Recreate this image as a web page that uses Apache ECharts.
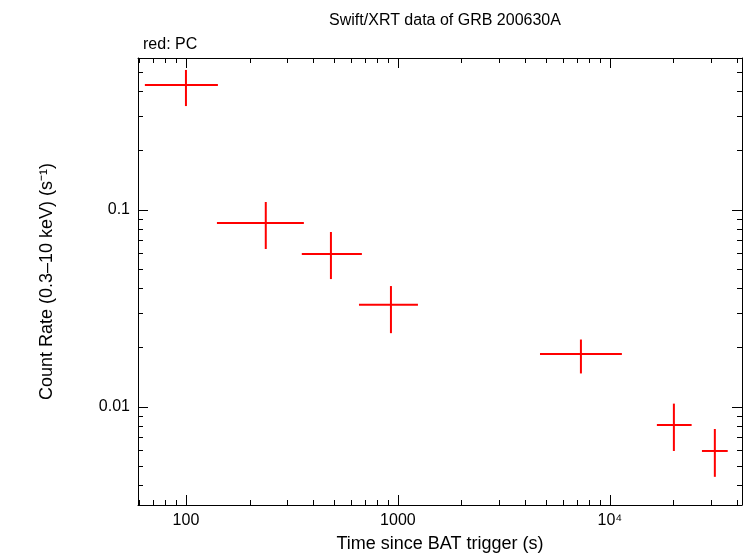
<!DOCTYPE html>
<html>
<head>
<meta charset="utf-8">
<script src="https://cdn.jsdelivr.net/npm/echarts@6/dist/echarts.min.js"></script>
<style>html,body{margin:0;padding:0;background:#fff}#c{width:746px;height:558px}</style>
</head>
<body>
<div id="c"></div>
<script>
// time (s), with lower/upper bin edges
var timeMid = [100, 238, 483, 927, 7300, 20040, 31270];
var timeLo = [64, 140, 352, 655, 4680, 16660, 27180];
var timeHi = [141.5, 360, 676, 1243, 11390, 24300, 35970];
// count rate (s^-1), with lower/upper errors
var rate = [0.431, 0.0859, 0.0598, 0.033, 0.0186, 0.0081, 0.00598];
var rateLo = [0.337, 0.0634, 0.0446, 0.0237, 0.0148, 0.00598, 0.00442];
var rateHi = [0.514, 0.1098, 0.0773, 0.0411, 0.022, 0.0104, 0.00773];

var chart = echarts.init(document.getElementById('c'));
var font = 'Liberation Sans, Arial, sans-serif';

var pts = timeMid.map(function (t, i) {
  return [t, rate[i], timeLo[i], timeHi[i], rateLo[i], rateHi[i]];
});

function axisCommon(show) {
  return {
    type: 'log',
    logBase: 10,
    axisLine: { show: true, lineStyle: { color: '#000', width: 1 } },
    axisTick: { show: true, inside: true, length: 10, lineStyle: { color: '#000' } },
    minorTick: { show: true, splitNumber: 9, length: 5, lineStyle: { color: '#000' } },
    splitLine: { show: false },
    axisLabel: { show: show, color: '#000', fontFamily: font, fontSize: 16,
      showMinLabel: false, showMaxLabel: false }
  };
}

var xb = axisCommon(true);
xb.min = 59.4; xb.max = 42000; xb.position = 'bottom';
xb.name = 'Time since BAT trigger (s)'; xb.nameLocation = 'middle'; xb.nameGap = 30;
xb.nameTextStyle = { color: '#000', fontFamily: font, fontSize: 18 };
xb.axisLabel.formatter = function (v) { return v >= 10000 ? '10⁴' : String(Math.round(v)); };
xb.axisLabel.margin = 8;
var xt = axisCommon(false);
xt.min = 59.4; xt.max = 42000; xt.position = 'top';

var yl = axisCommon(true);
yl.min = 0.00318; yl.max = 0.591; yl.position = 'left';
yl.name = 'Count Rate (0.3\u201310 keV) (s\u207B\u00B9)'; yl.nameLocation = 'middle'; yl.nameGap = 82;
yl.nameTextStyle = { color: '#000', fontFamily: font, fontSize: 18 };
yl.axisLabel.formatter = function (v) {
  if (Math.abs(v - 0.1) < 1e-6) return '0.1';
  if (Math.abs(v - 0.01) < 1e-7) return '0.01';
  return '';
};
var yr = axisCommon(false);
yr.min = 0.00318; yr.max = 0.591; yr.position = 'right';

chart.setOption({
  animation: false,
  backgroundColor: '#fff',
  grid: { left: 138, right: 4, top: 58, bottom: 53, outerBoundsMode: 'none', containLabel: false },
  title: [
    { text: 'Swift/XRT data of GRB 200630A', left: 440, top: 8, textAlign: 'center',
      textStyle: { fontFamily: font, fontSize: 16, fontWeight: 'normal', color: '#000' } },
    { text: 'red: PC', left: 138, top: 32,
      textStyle: { fontFamily: font, fontSize: 16, fontWeight: 'normal', color: '#000' } }
  ],
  xAxis: [xb, xt],
  yAxis: [yl, yr],
  series: [{
    type: 'custom',
    xAxisIndex: 0, yAxisIndex: 0,
    data: pts,
    renderItem: function (params, api) {
      var c = api.coord([api.value(0), api.value(1)]);
      var l = api.coord([api.value(2), api.value(1)]);
      var r = api.coord([api.value(3), api.value(1)]);
      var lo = api.coord([api.value(0), api.value(4)]);
      var hi = api.coord([api.value(0), api.value(5)]);
      var st = { stroke: '#ff0000', lineWidth: 2 };
      return { type: 'group', children: [
        { type: 'line', shape: { x1: l[0], y1: c[1], x2: r[0], y2: c[1] }, style: st },
        { type: 'line', shape: { x1: c[0], y1: lo[1], x2: c[0], y2: hi[1] }, style: st }
      ] };
    }
  }]
});
</script>
</body>
</html>
